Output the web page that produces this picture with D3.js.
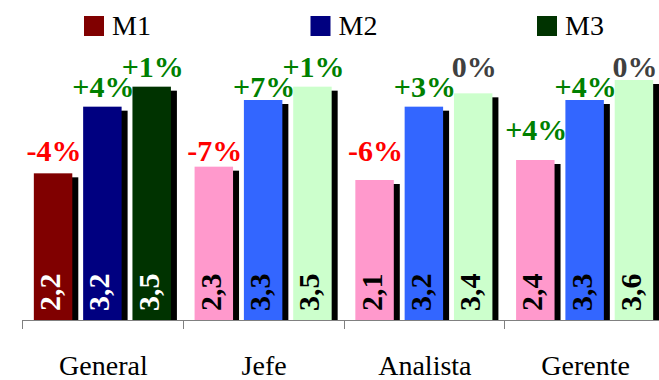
<!DOCTYPE html>
<html>
<head>
<meta charset="utf-8">
<script src="https://cdn.jsdelivr.net/npm/d3@7"></script>
<style>
  html, body { margin: 0; padding: 0; background: #fff; }
  svg { display: block; }
</style>
</head>
<body>
<svg id="chart" width="659" height="380"></svg>
<script>
// Categories and series
const categories = ["General", "Jefe", "Analista", "Gerente"];
const seriesNames = ["M1", "M2", "M3"];

// Scores per series (one value per category)
const m1Values = [2.2, 2.3, 2.1, 2.4];
const m2Values = [3.2, 3.3, 3.2, 3.3];
const m3Values = [3.5, 3.5, 3.4, 3.6];

// Percentage change shown above each bar
const m1Change = [-4, -7, -6, 4];
const m2Change = [4, 7, 3, 4];
const m3Change = [1, 1, 0, 0];

const values = [m1Values, m2Values, m3Values];
const changes = [m1Change, m2Change, m3Change];

// Colours: the "General" group uses dark tones, the others light tones
const darkColors = ["#800000", "#000080", "#003300"];
const lightColors = ["#ff99cc", "#3366ff", "#ccffcc"];

// Height (in value units) of the row where each series' change labels sit
const labelRow = [2.39, 3.35, 3.65];

const FONT = '"Liberation Serif"';

const svg = d3.select("#chart");
const baseY = 320;

const y = d3.scaleLinear().domain([0, 4.5]).range([baseY, 20]);
const x0 = d3.scaleBand().domain(categories).range([22, 665]).padding(0);
const x1 = d3.scaleBand().domain(seriesNames).range([0, x0.bandwidth()])
  .paddingInner(0.22).paddingOuter(0.24);

const rows = [];
categories.forEach((cat, ci) => {
  seriesNames.forEach((s, si) => {
    rows.push({
      cat, ci, s, si,
      value: values[si][ci],
      change: changes[si][ci]
    });
  });
});

// Axis line and group ticks
const axis = svg.append("g").attr("stroke", "#808080").attr("stroke-width", 1);
axis.append("line")
  .attr("x1", x0.range()[0]).attr("x2", 659)
  .attr("y1", baseY + 0.5).attr("y2", baseY + 0.5);
axis.selectAll("line.tick")
  .data(categories)
  .join("line")
  .attr("class", "tick")
  .attr("x1", d => Math.round(x0(d)) + 0.5)
  .attr("x2", d => Math.round(x0(d)) + 0.5)
  .attr("y1", baseY).attr("y2", baseY + 9);

const bw = x1.bandwidth();
const bx = d => x0(d.cat) + x1(d.s);

// Drop shadows
svg.append("g").selectAll("rect")
  .data(rows)
  .join("rect")
  .attr("x", d => bx(d) + 6)
  .attr("y", d => y(d.value) + 4)
  .attr("width", bw)
  .attr("height", d => baseY - y(d.value) - 4)
  .attr("fill", "#000");

// Bars
svg.append("g").selectAll("rect")
  .data(rows)
  .join("rect")
  .attr("x", d => bx(d))
  .attr("y", d => y(d.value))
  .attr("width", bw)
  .attr("height", d => baseY - y(d.value))
  .attr("fill", d => d.ci === 0 ? darkColors[d.si] : lightColors[d.si]);

// Values written vertically inside the bars
const fmtVal = v => v.toFixed(1).replace(".", ",");
svg.append("g").selectAll("text")
  .data(rows)
  .join("text")
  .attr("font-family", FONT)
  .attr("transform", d => `translate(${bx(d) + bw / 2 + 7},${baseY - 9}) rotate(-90)`)
  .attr("font-size", 30)
  .attr("font-weight", "bold")
  .attr("fill", d => d.ci === 0 ? "#fff" : "#000")
  .text(d => fmtVal(d.value));

// Change labels above the bars
const fmtChange = c => (c > 0 ? "+" : "") + c + "%";
svg.append("g").selectAll("text")
  .data(rows)
  .join("text")
  .attr("font-family", FONT)
  .attr("x", d => bx(d) + bw / 2 + 1)
  .attr("y", d => {
    const rowY = y(labelRow[d.si]);
    const top = y(d.value);
    return (top - rowY < 3) ? top - 20 : rowY;
  })
  .attr("text-anchor", "middle")
  .attr("font-size", 30)
  .attr("font-weight", "bold")
  .attr("fill", d => d.change < 0 ? "#ff0000" : (d.change > 0 ? "#008000" : "#404040"))
  .text(d => fmtChange(d.change));

// Category labels
svg.append("g").selectAll("text")
  .data(categories)
  .join("text")
  .attr("font-family", FONT)
  .attr("x", d => x0(d) + x0.bandwidth() / 2 + 1)
  .attr("y", 375)
  .attr("text-anchor", "middle")
  .attr("font-size", 28)
  .attr("fill", "#000")
  .text(d => d);

// Legend
const legendX = d3.scalePoint().domain(seriesNames).range([84, 537]);
const legend = svg.append("g").selectAll("g")
  .data(seriesNames)
  .join("g")
  .attr("transform", d => `translate(${legendX(d)},16)`);
legend.append("rect")
  .attr("width", 20).attr("height", 20)
  .attr("fill", (d, i) => darkColors[i]);
legend.append("text")
  .attr("font-family", FONT)
  .attr("x", 28).attr("y", 19)
  .attr("font-size", 28)
  .attr("fill", "#000")
  .text(d => d);
</script>
</body>
</html>
